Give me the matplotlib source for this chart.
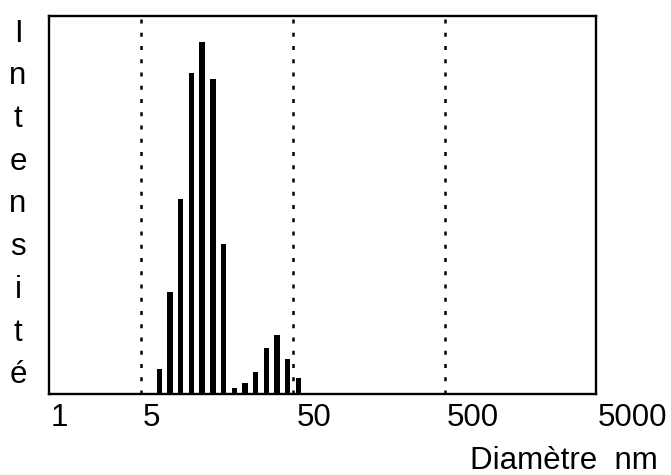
import numpy as np
import matplotlib
matplotlib.use("Agg")
import matplotlib.pyplot as plt

plt.rcParams['font.family'] = ['Liberation Sans', 'DejaVu Sans']

# Size distribution (diameter in nm, relative intensity in %)
diametres = [6.60, 7.76, 9.13, 10.79, 12.61, 14.91, 17.53, 20.59,
             24.21, 28.49, 33.45, 39.35, 46.28, 54.36]
intensites = [6.7, 27.0, 51.6, 84.9, 93.1, 83.3, 39.7, 1.7,
              3.1, 5.9, 12.2, 15.7, 9.3, 4.4]
reperes = [5, 50, 500]
tick_labels = ["1", "5", "50", "500", "5000"]
ylabel = "Intensité"
xlabel = "Diamètre  nm"

W, H = 671, 475
fig = plt.figure(figsize=(W / 100, H / 100), dpi=100)
ax = fig.add_axes([49 / W, 1 - 394.3 / H, (595.7 - 49) / W, (394.3 - 15.7) / H])
ax.set_xscale('log')
ax.set_xlim(1.238, 4950)
ax.set_ylim(0, 100)

# bars of constant width on the log axis
half = 0.0175
d = np.array(diametres)
left = d * 10 ** (-half)
width = d * 10 ** half - left
ax.bar(left, intensites, width=width, align='edge', color='black', zorder=3)

for r in reperes:
    ax.axvline(r, color='black', lw=1.8, linestyle=(0, (1.6, 3.7)), zorder=2)

for s in ax.spines.values():
    s.set_linewidth(1.7)
ax.set_xticks([])
ax.set_yticks([])
ax.minorticks_off()

fs = 22.5
label_px = [59, 151, 314, 473, 632]
for lab, px in zip(tick_labels, label_px):
    fig.text(px / W, 1 - 426 / H, lab, ha='center', va='baseline', fontsize=fs)

for i, ch in enumerate(ylabel):
    fig.text(18 / W, 1 - (41.7 + 42.7 * i) / H, ch, ha='center', va='baseline', fontsize=fs)

fig.text(658 / W, 1 - 469 / H, xlabel, ha='right', va='baseline', fontsize=fs)

fig.savefig("out.png", dpi=100)
